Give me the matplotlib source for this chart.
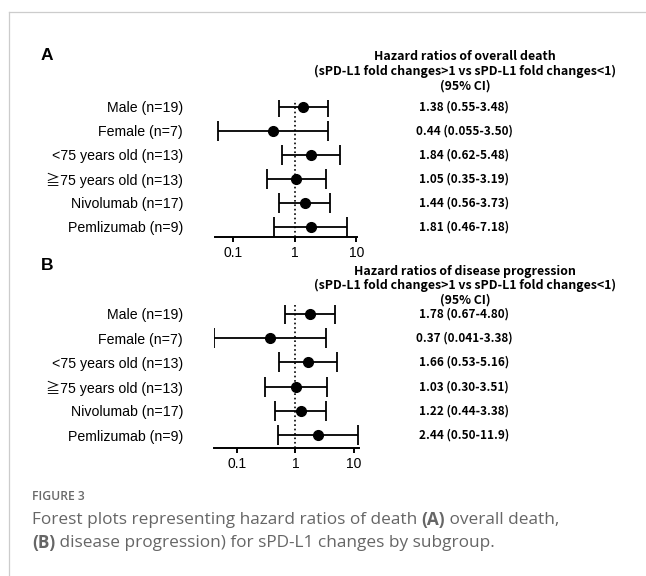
import numpy as np
import matplotlib
matplotlib.use("Agg")
import matplotlib.pyplot as plt
from matplotlib.lines import Line2D
from matplotlib.transforms import blended_transform_factory

W, H = 646, 576

SUBGROUPS = ["Male (n=19)", "Female (n=7)", "<75 years old (n=13)",
             "≧75 years old (n=13)", "Nivolumab (n=17)", "Pemlizumab (n=9)"]

# A: overall death
OS_HR = [1.38, 0.44, 1.84, 1.05, 1.44, 1.81]
OS_LO = [0.55, 0.055, 0.62, 0.35, 0.56, 0.46]
OS_HI = [3.48, 3.50, 5.48, 3.19, 3.73, 7.18]
OS_TXT = ["1.38 (0.55-3.48)", "0.44 (0.055-3.50)", "1.84 (0.62-5.48)",
          "1.05 (0.35-3.19)", "1.44 (0.56-3.73)", "1.81 (0.46-7.18)"]

# B: disease progression
PD_HR = [1.78, 0.37, 1.66, 1.03, 1.22, 2.44]
PD_LO = [0.67, 0.041, 0.53, 0.30, 0.44, 0.50]
PD_HI = [4.80, 3.38, 5.16, 3.51, 3.38, 11.9]
PD_TXT = ["1.78 (0.67-4.80)", "0.37 (0.041-3.38)", "1.66 (0.53-5.16)",
          "1.03 (0.30-3.51)", "1.22 (0.44-3.38)", "2.44 (0.50-11.9)"]

XTICKS = [0.1, 1, 10]
XTICKLABELS = ["0.1", "1", "10"]

LABEL_FONT = ["Liberation Sans", "Noto Sans CJK JP", "DejaVu Sans"]
JP_FONT = ["Noto Sans CJK JP", "DejaVu Sans"]
CAP_FONT = ["Open Sans", "DejaVu Sans"]

fig = plt.figure(figsize=(W / 100, H / 100), dpi=100)


def fx(x):
    return x / W


def fy(y):
    return 1 - y / H


def panel(left, right, top, bottom, row0, rowstep, xlim, hr, lo, hi, texts):
    ax = fig.add_axes([fx(left), fy(bottom), (right - left) / W, (bottom - top) / H])
    hr, lo, hi = np.asarray(hr), np.asarray(lo), np.asarray(hi)
    y = np.arange(len(hr))
    ax.errorbar(hr, y, xerr=[hr - lo, hi - hr], fmt="o", color="black", ms=7,
                capsize=7, elinewidth=1.3, capthick=1.3, zorder=3)
    ax.axvline(1, ls=":", color="black", lw=1.2, zorder=1)
    ax.set_xscale("log")
    ax.set_xlim(*xlim)
    # rows in pixels -> data: row i at row0 + i*rowstep
    ax.set_ylim((bottom - row0) / rowstep, (top - row0) / rowstep)
    for s in ("top", "right", "left"):
        ax.spines[s].set_visible(False)
    ax.spines["bottom"].set_linewidth(1.4)
    ax.set_xticks(XTICKS)
    ax.set_xticklabels(XTICKLABELS, fontsize=10, family=LABEL_FONT)
    ax.xaxis.set_minor_locator(matplotlib.ticker.NullLocator())
    ax.tick_params(axis="x", length=3.8, width=1.4, pad=3)
    ax.set_yticks(y)
    ax.set_yticklabels(SUBGROUPS, fontsize=10.2, family=LABEL_FONT)
    ax.tick_params(axis="y", length=0, pad=(left - 183) * 0.72)
    tr = blended_transform_factory(fig.transFigure, ax.transData)
    for yi, t in zip(y, texts):
        ax.text(fx(464), yi, t, transform=tr, ha="center", va="center",
                fontsize=8.5, fontweight="bold", family=JP_FONT)
    return ax


panel(215, 357, 100, 237, 107, 24, (0.05, 10.3), OS_HR, OS_LO, OS_HI, OS_TXT)
panel(214, 359, 305, 448, 314, 24.2, (0.0405, 12.2), PD_HR, PD_LO, PD_HI, PD_TXT)

HEAD_A = ["Hazard ratios of overall death",
          "(sPD-L1 fold changes>1 vs sPD-L1 fold changes<1)", "(95% CI)"]
HEAD_B = ["Hazard ratios of disease progression",
          "(sPD-L1 fold changes>1 vs sPD-L1 fold changes<1)", "(95% CI)"]
for lines, ys in ((HEAD_A, (56, 71, 86)), (HEAD_B, (271, 285, 300))):
    for s, yy in zip(lines, ys):
        fig.text(fx(465), fy(yy), s, ha="center", va="center", fontsize=8.9,
                 fontweight="bold", family=JP_FONT)

fig.text(fx(41), fy(55), "A", ha="left", va="center", fontsize=12.5,
         fontweight="bold", family=LABEL_FONT)
fig.text(fx(41), fy(265), "B", ha="left", va="center", fontsize=12.5,
         fontweight="bold", family=LABEL_FONT)

# frame
fig.add_artist(Line2D([fx(9), fx(9)], [0, fy(12)], transform=fig.transFigure,
                      color="#cccccc", lw=0.9))
fig.add_artist(Line2D([fx(9), 1], [fy(12), fy(12)], transform=fig.transFigure,
                      color="#cccccc", lw=0.9))

# caption
renderer = fig.canvas.get_renderer()
CAP_COLOR = "#666666"


def width_px(s, **kw):
    t = fig.text(0, 0, s + "|", **kw)
    w = t.get_window_extent(renderer).width
    t.remove()
    t = fig.text(0, 0, "|", **kw)
    w -= t.get_window_extent(renderer).width
    t.remove()
    return w


def rich_line(parts, x, y):
    for s, weight in parts:
        kw = dict(fontsize=12.4, family=CAP_FONT, fontweight=weight, color=CAP_COLOR)
        fig.text(fx(x), fy(y), s, ha="left", va="center", **kw)
        x += width_px(s, **kw)


fig.text(fx(32), fy(497), "FIGURE 3", ha="left", va="center", fontsize=8.7,
         fontweight="semibold", family=CAP_FONT, color="#6a6a6a")
rich_line([("Forest plots representing hazard ratios of death ", "normal"),
           ("(A)", "bold"), (" overall death,", "normal")], 32, 520)
rich_line([("(B)", "bold"),
           (" disease progression) for sPD-L1 changes by subgroup.", "normal")], 32, 543)

fig.savefig("out.png", dpi=100)
